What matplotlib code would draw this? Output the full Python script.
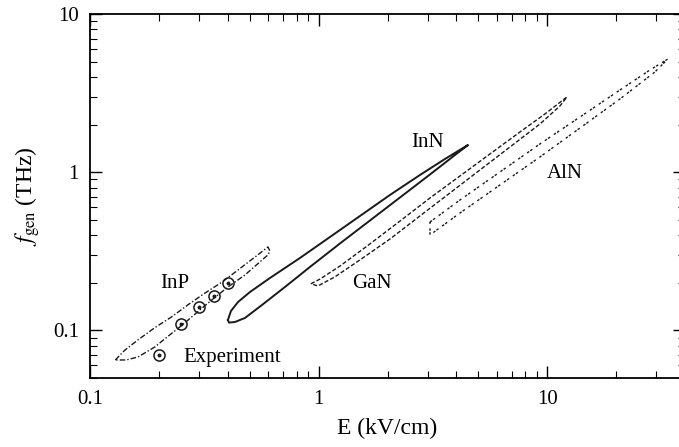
import matplotlib
matplotlib.use("Agg")
import matplotlib.pyplot as plt
from matplotlib.lines import Line2D
from matplotlib.ticker import FormatStrFormatter, LogLocator, NullFormatter

plt.rcParams['font.family'] = ['Liberation Serif', 'DejaVu Serif']
plt.rcParams['mathtext.fontset'] = 'stix'

# ---- data ----
# closed loops: f_gen (THz) vs E (kV/cm)
inp_E = [0.129, 0.142, 0.162, 0.192, 0.228, 0.268, 0.318, 0.378, 0.444, 0.527, 0.600, 0.612,
         0.600, 0.476, 0.401, 0.345, 0.303, 0.253, 0.228, 0.192, 0.162, 0.144, 0.129]
inp_f = [0.065, 0.075, 0.087, 0.104, 0.122, 0.145, 0.172, 0.202, 0.241, 0.291, 0.337, 0.318,
         0.300, 0.224, 0.188, 0.158, 0.135, 0.108, 0.096, 0.0785, 0.0679, 0.065, 0.065]

inn_E = [0.401, 0.4135, 0.444, 0.501, 0.6125, 0.8285, 1.121, 1.516, 2.050, 2.773, 3.567, 4.496,
         3.945, 3.067, 2.268, 1.676, 1.239, 0.916, 0.712, 0.565, 0.476, 0.4305, 0.4054, 0.401]
inn_f = [0.1163, 0.1326, 0.1512, 0.1749, 0.2144, 0.2869, 0.3895, 0.5287, 0.7178, 0.960, 1.212, 1.485,
         1.284, 0.967, 0.692, 0.495, 0.3543, 0.2517, 0.1880, 0.1447, 0.1198, 0.1130, 0.1120, 0.1163]

gan_E = [0.925, 1.013, 1.239, 1.676, 2.268, 3.067, 4.148, 5.610, 7.590, 9.761, 12.18,
         11.35, 9.282, 6.864, 5.074, 3.751, 2.773, 2.050, 1.516, 1.178, 0.993, 0.925]
gan_f = [0.197, 0.211, 0.255, 0.352, 0.491, 0.687, 0.946, 1.303, 1.795, 2.333, 2.988,
         2.621, 2.017, 1.443, 1.033, 0.739, 0.529, 0.378, 0.279, 0.218, 0.191, 0.197]

aln_E = [3.067, 4.148, 6.204, 9.282, 13.89, 20.77, 28.09, 33.68,
         29.54, 20.77, 13.89, 9.282, 6.204, 4.148, 3.067, 3.067]
aln_f = [0.484, 0.667, 1.003, 1.508, 2.233, 3.308, 4.426, 5.195,
         4.299, 2.902, 1.902, 1.248, 0.830, 0.552, 0.401, 0.484]

exp_E = [0.25, 0.30, 0.35, 0.40]
exp_f = [0.11, 0.14, 0.165, 0.20]

labels = ["InP", "InN", "GaN", "AlN"]
label_E = [0.235, 2.98, 1.71, 11.9]
label_f = [0.199, 1.53, 0.1965, 0.974]

x_ticks = [0.1, 1, 10]
y_ticks = [0.1, 1, 10]

# ---- figure ----
W, H = 679, 447
fig = plt.figure(figsize=(W / 100, H / 100), dpi=100)
ax = fig.add_axes([90 / W, (H - 378) / H, (685 - 90) / W, (378 - 14) / H])
ax.set_xscale('log')
ax.set_yscale('log')
ax.set_xlim(0.1, 40)
ax.set_ylim(0.05, 10)

lc = '#1a1a1a'
ax.plot(inp_E, inp_f, color=lc, lw=1.0, ls=(0, (4, 1.5, 1, 1.5)))
ax.plot(inn_E, inn_f, color=lc, lw=1.4, ls='-')
ax.plot(gan_E, gan_f, color=lc, lw=1.0, ls=(0, (3, 1.5)))
ax.plot(aln_E, aln_f, color=lc, lw=1.0, ls=(0, (1.8, 1.0, 1.8, 3.2)))

ax.plot(exp_E, exp_f, ls='none', marker='o', ms=8, mfc='none', mec=lc, mew=1.1)
ax.plot(exp_E, exp_f, ls='none', marker='o', ms=1.8, mfc=lc, mec=lc)

for t, e, f in zip(labels, label_E, label_f):
    ax.text(e, f, t, ha='center', va='center', fontsize=15)

h1 = Line2D([], [], ls='none', marker='o', ms=8, mfc='none', mec=lc, mew=1.1)
h2 = Line2D([], [], ls='none', marker='o', ms=1.8, mfc=lc, mec=lc)
leg = ax.legend(handles=[(h1, h2)], labels=['Experiment'], loc='center left',
                bbox_to_anchor=((149 - 90) / 595, (378 - 357) / 364),
                frameon=False, borderpad=0, borderaxespad=0, handlelength=1.0,
                handletextpad=0.65, fontsize=15, numpoints=1)

ax.set_xticks(x_ticks)
ax.set_yticks(y_ticks)
ax.xaxis.set_major_formatter(FormatStrFormatter('%g'))
ax.yaxis.set_major_formatter(FormatStrFormatter('%g'))
ax.xaxis.set_minor_locator(LogLocator(base=10, subs=range(2, 10)))
ax.yaxis.set_minor_locator(LogLocator(base=10, subs=range(2, 10)))
ax.xaxis.set_minor_formatter(NullFormatter())
ax.yaxis.set_minor_formatter(NullFormatter())
ax.tick_params(which='both', direction='in', top=True, right=True, labelsize=15)
ax.tick_params(which='major', length=8.5, width=1.0)
ax.tick_params(which='minor', length=5, width=0.8)
ax.tick_params(axis='x', pad=9)
ax.tick_params(axis='y', pad=8)
for s in ax.spines.values():
    s.set_linewidth(1.3)

ax.set_xlabel('E (kV/cm)', fontsize=17, labelpad=6)
ax.set_ylabel(r'$f_{\rm gen}$ (THz)', fontsize=17, labelpad=8)

fig.savefig('out.png', dpi=100)
